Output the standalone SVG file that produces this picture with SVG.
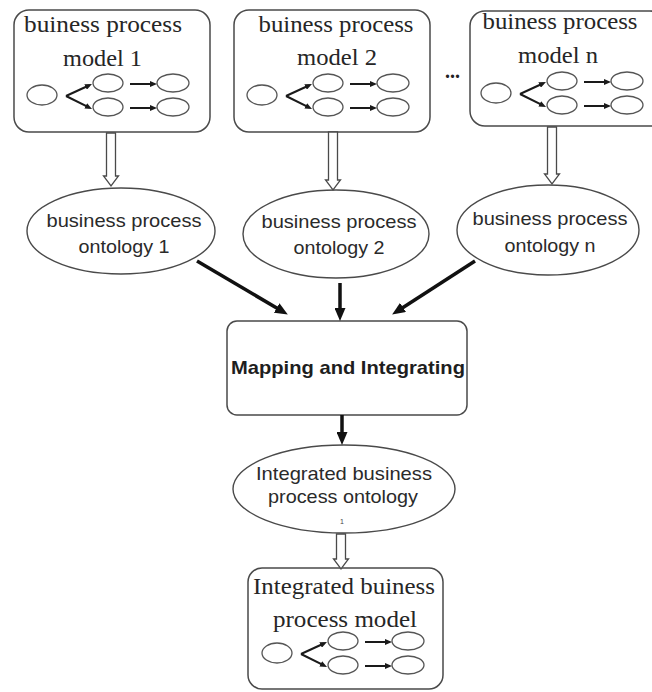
<svg xmlns="http://www.w3.org/2000/svg" width="652" height="692" viewBox="0 0 652 692">
  <style>
    .box { fill: #fff; stroke: #4a4a4a; stroke-width: 1.5; }
    .ell { fill: #fff; stroke: #4a4a4a; stroke-width: 1.4; }
    .mini { fill: #fff; stroke: #555; stroke-width: 1.3; }
    .serif { font-family: "Liberation Serif", "Times New Roman", serif; font-size: 24px; fill: #262626; text-anchor: middle; }
    .sans { font-family: "Liberation Sans", Arial, sans-serif; font-size: 19px; fill: #2a2a2a; text-anchor: middle; }
    .bold { font-family: "Liberation Sans", Arial, sans-serif; font-size: 19px; font-weight: bold; fill: #1e1e1e; text-anchor: middle; }
    .thick { stroke: #111; stroke-width: 3.5; fill: none; }
    .thin { stroke: #1a1a1a; stroke-width: 2; fill: none; }
    .hollow { fill: #fff; stroke: #4a4a4a; stroke-width: 1.3; stroke-linejoin: miter; }
  </style>
  <defs>
    <marker id="headBig" markerUnits="userSpaceOnUse" markerWidth="13" markerHeight="11" refX="6" refY="5.5" orient="auto">
      <path d="M0,0 L13,5.5 L0,11 z" fill="#111"/>
    </marker>
    <marker id="headSmall" markerUnits="userSpaceOnUse" markerWidth="7" markerHeight="6" refX="3.5" refY="3" orient="auto">
      <path d="M0,0 L7,3 L0,6 z" fill="#1a1a1a"/>
    </marker>
    <!-- small process sketch shown inside every model box -->
    <g id="sketch">
      <ellipse class="mini" cx="0" cy="0" rx="15" ry="10"/>
      <ellipse class="mini" cx="66" cy="-12" rx="15" ry="9"/>
      <ellipse class="mini" cx="66" cy="12" rx="15" ry="9"/>
      <ellipse class="mini" cx="131" cy="-12" rx="16" ry="9"/>
      <ellipse class="mini" cx="131" cy="12" rx="16" ry="9"/>
      <line class="thin" x1="24" y1="1" x2="46.8" y2="-9.5" marker-end="url(#headSmall)"/>
      <line class="thin" x1="24" y1="1" x2="46.9" y2="12.4" marker-end="url(#headSmall)"/>
      <line class="thin" x1="88" y1="-11" x2="111.5" y2="-11" marker-end="url(#headSmall)"/>
      <line class="thin" x1="88" y1="13" x2="111.5" y2="13" marker-end="url(#headSmall)"/>
    </g>
  </defs>

  <!-- process model boxes -->
  <g id="model1">
    <rect class="box" x="14" y="10" width="196" height="122" rx="15"/>
    <text class="serif" x="103" y="32" textLength="158" lengthAdjust="spacingAndGlyphs">buiness process</text>
    <text class="serif" x="102.5" y="66" textLength="79" lengthAdjust="spacingAndGlyphs">model 1</text>
    <use href="#sketch" x="42" y="95"/>
  </g>
  <g id="model2">
    <rect class="box" x="234" y="10" width="196" height="122" rx="15"/>
    <text class="serif" x="336" y="32" textLength="155" lengthAdjust="spacingAndGlyphs">buiness process</text>
    <text class="serif" x="337" y="65" textLength="80" lengthAdjust="spacingAndGlyphs">model 2</text>
    <use href="#sketch" x="262" y="95"/>
  </g>
  <g id="ellipsis">
    <text x="445" y="78" style="font-family: 'Liberation Serif', serif; font-size: 20px; font-weight: bold; fill: #222;">...</text>
  </g>
  <g id="modeln">
    <rect class="box" x="470" y="11" width="195" height="115" rx="15"/>
    <text class="serif" x="560" y="29" textLength="155" lengthAdjust="spacingAndGlyphs">buiness process</text>
    <text class="serif" x="558" y="63" textLength="80" lengthAdjust="spacingAndGlyphs">model n</text>
    <use href="#sketch" x="496" y="93"/>
  </g>

  <!-- ontologies -->
  <g id="ontology1">
    <ellipse class="ell" cx="121" cy="231" rx="94" ry="43"/>
    <text class="sans" x="124" y="227" textLength="155" lengthAdjust="spacingAndGlyphs">business process</text>
    <text class="sans" x="124" y="253" textLength="91" lengthAdjust="spacingAndGlyphs">ontology 1</text>
  </g>
  <g id="ontology2">
    <ellipse class="ell" cx="336" cy="234" rx="93" ry="44"/>
    <text class="sans" x="339" y="228" textLength="155" lengthAdjust="spacingAndGlyphs">business process</text>
    <text class="sans" x="339" y="254" textLength="91" lengthAdjust="spacingAndGlyphs">ontology 2</text>
  </g>
  <g id="ontologyn">
    <ellipse class="ell" cx="548" cy="230" rx="91" ry="45"/>
    <text class="sans" x="550" y="225" textLength="155" lengthAdjust="spacingAndGlyphs">business process</text>
    <text class="sans" x="550" y="252" textLength="91" lengthAdjust="spacingAndGlyphs">ontology n</text>
  </g>

  <!-- mapping step -->
  <g id="mapping">
    <rect class="box" x="227" y="321" width="240" height="94" rx="10"/>
    <text class="bold" x="348" y="374" textLength="234" lengthAdjust="spacingAndGlyphs">Mapping and Integrating</text>
  </g>

  <!-- integrated ontology -->
  <g id="integratedOntology">
    <ellipse class="ell" cx="344" cy="489" rx="111" ry="44"/>
    <text class="sans" x="344" y="480" textLength="176" lengthAdjust="spacingAndGlyphs">Integrated business</text>
    <text class="sans" x="343" y="503" textLength="150" lengthAdjust="spacingAndGlyphs">process ontology</text>
    <text x="342" y="524" style="font-family: 'Liberation Sans', sans-serif; font-size: 7px; fill: #444; text-anchor: middle;">1</text>
  </g>

  <!-- integrated model -->
  <g id="integratedModel">
    <rect class="box" x="248" y="568" width="195" height="121" rx="14"/>
    <text class="serif" x="344" y="594" textLength="182" lengthAdjust="spacingAndGlyphs">Integrated buiness</text>
    <text class="serif" x="345" y="627" textLength="144" lengthAdjust="spacingAndGlyphs">process model</text>
    <use href="#sketch" x="277" y="653"/>
  </g>

  <!-- connectors -->
  <g id="connectors">
    <polygon class="hollow" points="106.5,133 115.5,133 115.5,176 118.5,176 111,186 103.5,176 106.5,176"/>
    <polygon class="hollow" points="328.5,132 337.5,132 337.5,180 340.5,180 333,190 325.5,180 328.5,180"/>
    <polygon class="hollow" points="547.5,127 556.5,127 556.5,174 559.5,174 552,184 544.5,174 547.5,174"/>
    <polygon class="hollow" points="336.5,534 345.5,534 345.5,559 348.5,559 341,569 333.5,559 336.5,559"/>
    <line class="thick" x1="197" y1="261" x2="281.8" y2="311" marker-end="url(#headBig)"/>
    <line class="thick" x1="340" y1="283" x2="340" y2="314" marker-end="url(#headBig)"/>
    <line class="thick" x1="475" y1="261" x2="398" y2="310.7" marker-end="url(#headBig)"/>
    <line class="thick" x1="342" y1="415" x2="342" y2="438" marker-end="url(#headBig)"/>
  </g>
</svg>
